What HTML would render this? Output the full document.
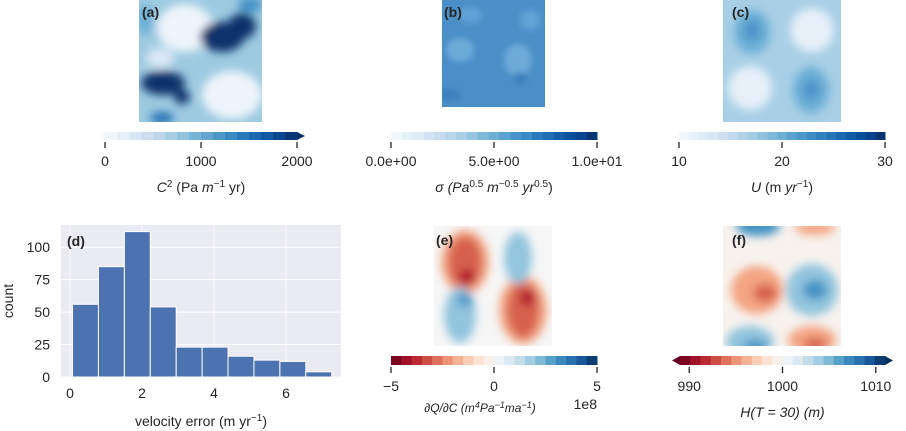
<!DOCTYPE html>
<html><head><meta charset="utf-8"><style>
body{margin:0;background:#fff;width:906px;height:431px;overflow:hidden;font-family:"Liberation Sans",sans-serif;}
svg{position:absolute;left:0;top:0}
text{fill:#262626;font-family:"Liberation Sans","DejaVu Sans",sans-serif}
</style></head><body>
<svg id="fig" width="906" height="431">
<defs>
<filter id="bl" x="-50%" y="-50%" width="200%" height="200%"><feGaussianBlur stdDeviation="4.5"/></filter>
<filter id="bl2" x="-50%" y="-50%" width="200%" height="200%"><feGaussianBlur stdDeviation="3"/></filter>
<clipPath id="ca"><rect x="139" y="0" width="123" height="122"/></clipPath>
<clipPath id="cb"><rect x="442" y="0" width="103" height="107"/></clipPath>
<clipPath id="cc"><rect x="723" y="0" width="118" height="122"/></clipPath>
<clipPath id="ce"><rect x="434" y="226" width="118" height="120"/></clipPath>
<clipPath id="cf"><rect x="723" y="226" width="118" height="120"/></clipPath>
</defs>
<g clip-path="url(#ca)">
<rect x="139" y="0" width="123" height="122" fill="#9ecae1"/>
<g filter="url(#bl)">
<ellipse cx="185" cy="28" rx="28" ry="24" fill="#eef5fc"/>
<ellipse cx="232" cy="95" rx="30" ry="24" fill="#eef5fc"/>
<ellipse cx="160" cy="58" rx="14" ry="10" fill="#dbe9f6"/>
<ellipse cx="222" cy="37" rx="22" ry="15" fill="#08306b"/>
<ellipse cx="242" cy="26" rx="14" ry="13" fill="#08306b"/>
<ellipse cx="163" cy="83" rx="22" ry="12" fill="#08306b"/>
<ellipse cx="182" cy="97" rx="8" ry="7" fill="#08306b"/>
<ellipse cx="162" cy="118" rx="12" ry="6" fill="#2171b5"/>
<ellipse cx="145" cy="20" rx="8" ry="15" fill="#6baed6"/>
<ellipse cx="250" cy="5" rx="12" ry="8" fill="#4292c6"/>
</g></g>
<text x="142" y="17" font-size="14" font-weight="bold">(a)</text>
<g clip-path="url(#cb)">
<rect x="442" y="0" width="103" height="107" fill="#4a8fc7"/>
<g filter="url(#bl2)">
<ellipse cx="460" cy="50" rx="14" ry="12" fill="#6caad8"/>
<ellipse cx="518" cy="60" rx="14" ry="16" fill="#6caad8"/>
<ellipse cx="470" cy="15" rx="12" ry="8" fill="#62a3d5"/>
<ellipse cx="530" cy="20" rx="10" ry="10" fill="#62a3d5"/>
<ellipse cx="520" cy="78" rx="6" ry="6" fill="#3a7fbd"/>
<ellipse cx="450" cy="95" rx="10" ry="6" fill="#3a7fbd"/>
</g></g>
<text x="444" y="17" font-size="14" font-weight="bold">(b)</text>
<g clip-path="url(#cc)">
<rect x="723" y="0" width="118" height="122" fill="#a8cfe6"/>
<g filter="url(#bl)">
<ellipse cx="752" cy="32" rx="18" ry="22" fill="#6baed6"/>
<ellipse cx="752" cy="30" rx="8" ry="10" fill="#4a93c8"/>
<ellipse cx="811" cy="90" rx="18" ry="23" fill="#6baed6"/>
<ellipse cx="811" cy="90" rx="8" ry="10" fill="#4a93c8"/>
<ellipse cx="812" cy="30" rx="22" ry="22" fill="#e6f0f9"/>
<ellipse cx="750" cy="88" rx="22" ry="22" fill="#e6f0f9"/>
</g></g>
<text x="732" y="17" font-size="14" font-weight="bold">(c)</text>
<g clip-path="url(#ce)">
<rect x="434" y="226" width="118" height="120" fill="#f6f6f6"/>
<g filter="url(#bl)">
<ellipse cx="465" cy="262" rx="24" ry="32" fill="#f4a582"/>
<ellipse cx="465" cy="262" rx="17" ry="26" fill="#d6604d"/>
<ellipse cx="467" cy="277" rx="8" ry="8" fill="#b2182b"/>
<ellipse cx="523" cy="310" rx="24" ry="34" fill="#f4a582"/>
<ellipse cx="523" cy="310" rx="16" ry="28" fill="#d6604d"/>
<ellipse cx="528" cy="298" rx="8" ry="8" fill="#b2182b"/>
<ellipse cx="518" cy="258" rx="14" ry="26" fill="#92c5de"/>
<ellipse cx="460" cy="315" rx="16" ry="28" fill="#92c5de"/>
<ellipse cx="465" cy="300" rx="8" ry="6" fill="#4393c3"/>
</g></g>
<text x="436" y="245" font-size="14" font-weight="bold">(e)</text>
<g clip-path="url(#cf)">
<rect x="723" y="226" width="118" height="120" fill="#f7f2ee"/>
<g filter="url(#bl)">
<ellipse cx="757" cy="290" rx="26" ry="24" fill="#f4a582"/>
<ellipse cx="765" cy="293" rx="12" ry="9" fill="#d6604d"/>
<ellipse cx="812" cy="290" rx="26" ry="26" fill="#92c5de"/>
<ellipse cx="815" cy="290" rx="12" ry="10" fill="#4393c3"/>
<ellipse cx="758" cy="226" rx="22" ry="10" fill="#4393c3"/>
<ellipse cx="750" cy="342" rx="24" ry="16" fill="#92c5de"/>
<ellipse cx="755" cy="346" rx="12" ry="6" fill="#4393c3"/>
<ellipse cx="812" cy="340" rx="24" ry="14" fill="#f4a582"/>
<ellipse cx="815" cy="344" rx="12" ry="6" fill="#d6604d"/>
<ellipse cx="815" cy="228" rx="20" ry="7" fill="#f4a582"/>
</g></g>
<text x="732" y="245" font-size="14" font-weight="bold">(f)</text>
<g id="cbars"></g>
<g id="hist"></g>
</svg>
<script>
const histCounts=[56,85,112,54,23,23,16,13,12,4];
const histEdges=[0.07,0.79,1.51,2.23,2.95,3.67,4.39,5.11,5.83,6.55,7.27];
const xTicks=[0,2,4,6];
const yTicks=[0,25,50,75,100];
const NS='http://www.w3.org/2000/svg';
const svg=document.getElementById('fig');
function mk(t,a,p){const e=document.createElementNS(NS,t);for(const k in a)e.setAttribute(k,a[k]);(p||svg).appendChild(e);return e;}
const hx=v=>70+v*36, hy=v=>377-v*1.298;
const H=document.getElementById('hist');
mk('rect',{x:61,y:225,width:280,height:152,fill:'#eaeaf2'},H);
xTicks.forEach(t=>{mk('line',{x1:hx(t),x2:hx(t),y1:225,y2:377,stroke:'#fff','stroke-width':1},H);
 const tx=mk('text',{x:hx(t),y:398,'font-size':14,'text-anchor':'middle'},H);tx.textContent=t;
 
 });
yTicks.forEach(t=>{mk('line',{x1:61,x2:341,y1:hy(t),y2:hy(t),stroke:'#fff','stroke-width':1},H);
 const tx=mk('text',{x:50,y:hy(t)+5,'font-size':14,'text-anchor':'end'},H);tx.textContent=t;
 
 });
histCounts.forEach((c,i)=>{const r=mk('rect',{x:hx(histEdges[i]),y:hy(c),width:hx(histEdges[i+1])-hx(histEdges[i]),height:hy(0)-hy(c),fill:'#4c72b0',stroke:'#fff','stroke-width':1},H);
 
 });
let t=mk('text',{x:67,y:246,'font-size':14,'font-weight':'bold'},H);t.textContent='(d)';
t=mk('text',{x:201,y:426,'font-size':14,'text-anchor':'middle'},H);t.innerHTML='velocity error (m yr<tspan dy="-5" font-size="10">−1</tspan><tspan dy="5">)</tspan>';


t=mk('text',{x:13,y:301,'font-size':14,'text-anchor':'middle',transform:'rotate(-90 13 301)'},H);t.textContent='count';



const blues=['#f7fbff','#deebf7','#c6dbef','#9ecae1','#6baed6','#4292c6','#2171b5','#08519c','#08306b'];
const rdbu=['#67001f','#b2182b','#d6604d','#f4a582','#fddbc7','#f7f7f7','#d1e5f0','#92c5de','#4393c3','#2166ac','#053061'];
function hex(h){return [1,3,5].map(i=>parseInt(h.substr(i,2),16));}
function cmap(cs,f){const p=f*(cs.length-1),i=Math.min(Math.floor(p),cs.length-2),r=p-i;const a=hex(cs[i]),b=hex(cs[i+1]);return 'rgb('+a.map((v,k)=>Math.round(v+(b[k]-v)*r)).join(',')+')';}
const C=document.getElementById('cbars');
function cbar(name,x0,x1,y,h,cs,n,ticks,labels,title,extL,extR){
 const g=mk('g',{},C);
 const w=(x1-x0)/n;
 for(let i=0;i<n;i++)mk('rect',{x:x0+i*w,y:y,width:w+0.5,height:h,fill:cmap(cs,(i+0.5)/n)},g);
 if(extL)mk('polygon',{points:`${x0},${y} ${x0-8},${y+h/2} ${x0},${y+h}`,fill:cmap(cs,0)},g);
 if(extR)mk('polygon',{points:`${x1},${y} ${x1+8},${y+h/2} ${x1},${y+h}`,fill:cmap(cs,1)},g);
 ticks.forEach((tk,i)=>{const xx=x0+(x1-x0)*tk;mk('line',{x1:xx,x2:xx,y1:y+h+2,y2:y+h+8,stroke:'#262626','stroke-width':1.3},g);
  const tt=mk('text',{x:xx,y:y+h+26,'font-size':14,'text-anchor':'middle'},g);tt.textContent=labels[i];});
 const tt=mk('text',{x:(x0+x1)/2,y:y+h+52,'font-size':14,'text-anchor':'middle'},g);tt.innerHTML=title;return g;}
cbar('colorbar-a',105,297,132,8,blues,16,[0,0.5,1],['0','1000','2000'],'<tspan font-style="italic">C</tspan><tspan dy="-5" font-size="10">2</tspan><tspan dy="5"> (Pa </tspan><tspan font-style="italic">m</tspan><tspan dy="-5" font-size="10">−1</tspan><tspan dy="5"> yr)</tspan>',true,true);
cbar('colorbar-b',391,597,132,8,blues,19,[0,0.5,1],['0.0e+00','5.0e+00','1.0e+01'],'<tspan font-style="italic">σ (Pa</tspan><tspan dy="-5" font-size="10">0.5</tspan><tspan dy="5" font-style="italic"> m</tspan><tspan dy="-5" font-size="10">−0.5</tspan><tspan dy="5" font-style="italic"> yr</tspan><tspan dy="-5" font-size="10">0.5</tspan><tspan dy="5">)</tspan>',false,false);
cbar('colorbar-c',679,885,132,8,blues,21,[0,0.5,1],['10','20','30'],'<tspan font-style="italic">U</tspan> (m <tspan font-style="italic">yr</tspan><tspan dy="-5" font-size="10">−1</tspan><tspan dy="5">)</tspan>',false,false);
const ge=cbar('colorbar-e',391,597,356,9,rdbu,20,[0,0.5,1],['−5','0','5'],'',false,false);
t=mk('text',{x:480,y:412,'font-size':12,'text-anchor':'middle','font-style':'italic'},ge);t.innerHTML='∂Q/∂C (m<tspan dy="-4" font-size="9">4</tspan><tspan dy="4">Pa</tspan><tspan dy="-4" font-size="9">−1</tspan><tspan dy="4">ma</tspan><tspan dy="-4" font-size="9">−1</tspan><tspan dy="4">)</tspan>';
t=mk('text',{x:597,y:409,'font-size':14,'text-anchor':'end'},ge);t.textContent='1e8';
cbar('colorbar-f',680,885,356,9,rdbu,20,[0.045,0.5,0.955],['990','1000','1010'],'<tspan font-style="italic">H(T = 30) (m)</tspan>',true,true);
</script>
</body></html>
